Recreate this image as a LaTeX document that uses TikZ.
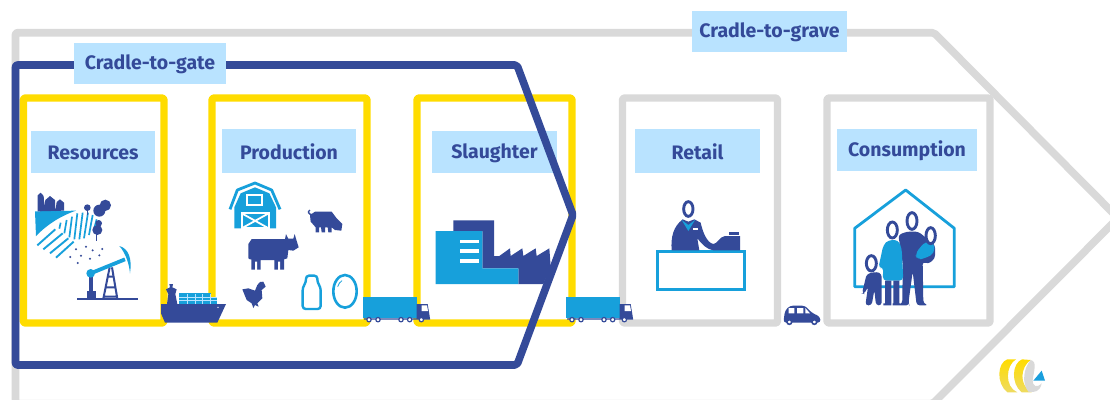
\documentclass[tikz,border=0pt]{standalone}
\usepackage{fontspec}
\setmainfont{Fira Sans}
\definecolor{navy}{HTML}{344A99}
\definecolor{cyanb}{HTML}{17A0DB}
\definecolor{sun}{HTML}{FFDC00}
\definecolor{ash}{HTML}{D9D9D9}
\definecolor{pale}{HTML}{B9E3FF}
\tikzset{
  stagebox/.style={line width=7.4pt,rounded corners=1.5pt,line join=round},
  yellowbox/.style={stagebox,draw=sun},
  graybox/.style={stagebox,draw=ash},
  tag/.style={fill=none,text=navy,font=\fontsize{19.5}{19.5}\selectfont\bfseries,inner sep=0pt,anchor=center},
  zoomA/.style={shift={(0,170)},x=0.33333pt,y=-0.33333pt},
  zoomB/.style={shift={(360,170)},x=0.33333pt,y=-0.33333pt},
  zoomC/.style={shift={(770,170)},x=0.33333pt,y=-0.33333pt},
  head/.style={fill=white,draw=navy,line width=2.9pt},
}
\newcommand{\tagnode}[6]{\fill[pale] (#2,#3) rectangle (#4,#5);
  \node[tag] (#1) at ({(#2+#4)/2},{(#3+#5)/2+1}) {#6};}
\newcommand{\truckicon}[1]{%
 \begin{scope}[zoomB,shift={(#1,0)}]
  \fill[cyanb] (8,380) rectangle (170,445);
  \fill[navy] (170,402) -- (203,402) -- (210,445) -- (210,449) -- (12,449) -- (12,445) -- (170,445) -- cycle;
  \fill[white] (185,406) -- (201,406) -- (204,423) -- (185,423) -- cycle;
  \foreach \wx in {27,54,123,149,184}{\draw[fill=white,draw=navy,line width=1.2pt] (\wx,449) circle (6.5);}
 \end{scope}}
\begin{document}
\begin{tikzpicture}[x=1pt,y=-1pt]
\useasboundingbox (0,0) rectangle (1110,399);
\fill[white] (0,0) rectangle (1110,399);
% outer gray chevron
\draw[ash,line width=7.6pt,rounded corners=2pt,line join=round]
  (15.5,403.6) -- (15.5,32.7) -- (934,32.7) -- (1118,218) -- (933,403.6) -- cycle;
% stage boxes
\draw[yellowbox] (23.3,98) rectangle (164,323);
\draw[yellowbox] (212,98) rectangle (367,323);
\draw[yellowbox] (417,98) rectangle (572,323);
\draw[graybox] (622.5,98) rectangle (777.5,323);
\draw[graybox] (827,98) rectangle (990,323);
% stage labels
\tagnode{res}{31}{131}{155}{173}{Resources}
\tagnode{prod}{222}{129}{356}{173}{Production}
\tagnode{sla}{432}{131}{557}{173}{Slaughter}
\tagnode{ret}{635}{129}{760}{173}{Retail}
\tagnode{con}{837}{129}{977}{171}{Consumption}
% resources icon
\begin{scope}[zoomA]
 \fill[cyanb] (105,124) -- (228,122) .. controls (175,140) and (135,170) .. (108,198) -- cycle;
 \fill[navy] (113,124) -- (113,76) -- (122,68) -- (131,78) -- (133,108) -- (136,90) -- (150,78) -- (165,90) -- (166,124) -- (170,96) -- (180,88) -- (192,98) -- (192,122) -- cycle;
 \foreach \a/\b/\c/\d in {112/226/166/178, 130/238/188/190, 150/250/205/205, 168/263/221/215}{\draw[cyanb,line width=1.9pt] (\a,\b) -- (\c,\d);}
 \foreach \a/\b/\c/\d in {178/176/182/158, 193/190/200/150, 208/202/216/140, 223/208/232/130, 238/208/248/128, 252/205/264/128, 267/195/278/135, 282/178/290/148}{\draw[cyanb,line width=1.7pt] (\a,\b) -- (\c,\d);}
 \foreach \tx/\ty/\tr in {262/113/10,298/122/18,316/106/17,292/180/15,296/160/10}{\fill[navy] (\tx,\ty) circle (\tr);}
 \fill[navy] (260,120) rectangle (264,135); \fill[navy] (288,190) rectangle (292,212);
 \foreach \px/\py in {228/238,258/230,278/241,307/237,211/261,243/257,270/266,298/256,233/279}{\fill[navy] (\px,\py) circle (3.4);}
 % pump
 \draw[navy,line width=1.8pt] (232,388) -- (413,388);
 \draw[navy,line width=2pt] (310,386) -- (329,292) (352,386) -- (336,292) (318,352) -- (345,352) (312,380) -- (350,380) (325,320) -- (340,320);
 \fill[navy] (268,310) rectangle (278,365); \fill[navy] (262,363) rectangle (288,386);
 \draw[cyanb,line width=3.8pt] (272,310) -- (375,268);
 \fill[cyanb] (272,310) circle (13);
 \fill[cyanb] (358,228) .. controls (385,235) and (397,265) .. (390,310) .. controls (388,285) and (378,250) .. cycle;
 % barn
 \draw[cyanb,line width=2.8pt,line join=round] (690,118) -- (712,60) -- (765,39) -- (815,60) -- (840,118);
 \fill[cyanb] (703,175) -- (703,112) -- (722,70) -- (765,52) -- (808,70) -- (828,112) -- (828,175) -- cycle;
 \draw[white,line width=1.8pt] (741,76) rectangle (786,106);
 \draw[white,line width=1.8pt] (725,130) rectangle (806,175);
 \draw[white,line width=1.8pt] (725,130) -- (806,175) (806,130) -- (725,175);
 % pig
 \draw[navy,line width=1.4pt] (935,134) .. controls (925,132) and (922,125) .. (930,120);
 \fill[navy] (930,135) -- (945,125) -- (995,125) -- (1010,145) -- (1027,162) -- (1024,182) -- (1005,180) -- (995,172) -- (995,187) -- (985,187) -- (983,172) -- (975,172) -- (975,187) -- (965,187) -- (963,172) -- (957,172) -- (957,187) -- (947,187) -- (947,172) -- (932,155) -- cycle;
 % cow
 \fill[navy] (745,265) -- (745,222) -- (755,207) -- (855,207) -- (858,192) -- (865,206) -- (880,206) -- (884,192) -- (888,206) -- (896,232) -- (880,242) -- (865,240) -- (862,265) -- (852,268) -- (852,299) -- (823,299) -- (823,270) -- (782,270) -- (782,299) -- (754,299) -- (754,268) -- (750,268) -- cycle;
 \fill[white] (765,275) rectangle (771,300) (834,275) rectangle (840,300);
 % hen
 \fill[navy] (727,358) -- (745,355) -- (765,362) -- (772,345) -- (780,336) -- (790,335) -- (797,350) -- (785,360) -- (787,385) -- (772,400) -- (776,410) -- (765,405) -- (760,414) -- (755,400) -- (740,390) -- cycle;
 % bottle and egg
 \draw[cyanb,line width=2.4pt,rounded corners=3pt,fill=white] (918,317) -- (952,317) -- (952,337) -- (962,352) -- (962,417) -- (908,417) -- (908,352) -- (918,337) -- cycle;
 \draw[cyanb,line width=2.6pt] (1035,364) ellipse (35 and 49);
 \draw[cyanb,line width=0.8pt] (1013,350) .. controls (1015,342) and (1020,336) .. (1026,332);
\end{scope}
% ship
\begin{scope}[zoomA]
 \fill[cyanb] (537,370) rectangle (632,402);
 \fill[cyanb] (632,382) rectangle (652,402);
 \foreach \yy in {381,391}{\draw[pale,line width=0.9pt] (537,\yy) -- (652,\yy);}
 \foreach \xx in {563,585,608,630}{\draw[pale,line width=0.9pt] (\xx,372) -- (\xx,402);}
 \fill[navy] (501,402) -- (505,372) -- (498,358) -- (510,352) -- (508,342) -- (519,342) -- (517,352) -- (530,358) -- (526,372) -- (532,402) -- cycle;
 \fill[navy] (483,402) -- (678,402) -- (652,458) -- (495,458) -- (483,430) -- cycle;
 \fill[white] (654,412) circle (2);
\end{scope}
% slaughterhouse
\begin{scope}[zoomB]
 \fill[navy] (280,151) -- (402,151) -- (402,258) -- (418,258) -- (450,235) -- (452,258) -- (487,235) -- (490,258) -- (527,235) -- (530,258) -- (568,235) -- (572,290) -- (550,342) -- (475,342) -- (475,295) -- (367,295) -- (367,183) -- (280,183) -- cycle;
 \fill[cyanb] (227,183) -- (367,183) -- (367,295) -- (475,295) -- (475,342) -- (227,342) -- cycle;
 \foreach \yy in {215,243,273}{\fill[white] (299,\yy-5) rectangle (358,\yy+5);}
 % cashier
 \draw[cyanb,line width=2.7pt,fill=white] (892,244) rectangle (1153,358);
 \fill[navy] (935,241) .. controls (932,200) and (940,170) .. (968,148) -- (985,155) -- (1003,148) -- (1022,158) .. controls (1028,185) and (1040,218) .. (1060,222) .. controls (1072,222) and (1078,200) .. (1095,198) -- (1140,198) -- (1140,241) -- (1060,241) .. controls (1040,238) and (1025,222) .. (1012,205) -- (1018,241) -- cycle;
 \fill[navy] (1108,185) rectangle (1136,196);
 \fill[cyanb] (965,150) -- (985,165) -- (1005,150) -- (985,183) -- cycle;
 \fill[white] (998,175) rectangle (1014,180);
 \draw[head] (985,117) ellipse (14 and 22);
\end{scope}
% cradle-to-grave label
\tagnode{grave}{692}{11}{847}{52}{Cradle-to-grave}
% family
\begin{scope}[zoomC]
 \draw[cyanb,line width=2.8pt,line join=round] (254,350) -- (254,175) -- (407,60) -- (553,175) -- (553,350) -- cycle;
 \fill[navy,rounded corners=3pt] (385,195) -- (410,185) -- (445,185) -- (470,205) -- (495,225) -- (495,265) -- (475,282) -- (458,275) -- (460,400) -- (475,406) -- (440,406) -- (428,305) -- (415,400) -- (418,406) -- (385,406) -- (397,400) -- (398,280) -- cycle;
 \fill[cyanb,rounded corners=4pt] (340,225) -- (355,210) -- (385,210) -- (395,235) -- (400,332) -- (338,332) -- (340,290) -- (325,295) -- cycle;
 \fill[cyanb,rounded corners=5pt] (465,215) -- (492,215) -- (494,250) -- (465,265) -- (440,270) -- (436,250) -- cycle;
 \fill[navy] (345,332) rectangle (364,400) (370,332) rectangle (388,400) (340,400) rectangle (364,406) (368,400) rectangle (392,406);
 \fill[navy,rounded corners=3pt] (290,312) -- (320,305) -- (335,312) -- (335,406) -- (318,406) -- (313,360) -- (305,406) -- (286,406) -- (294,350) -- (283,372) -- (276,370) -- cycle;
 \draw[head] (304,280) ellipse (15 and 23);
 \draw[head] (367,180) ellipse (15 and 24);
 \draw[head] (426,153) ellipse (15 and 25);
 \draw[head] (482,197) ellipse (14 and 24);
 % car
 \fill[navy,rounded corners=3pt] (40,458) -- (45,422) -- (60,407) -- (105,407) -- (125,428) -- (150,440) -- (152,458) -- cycle;
 \fill[white] (56,414) rectangle (73,430) (81,414) rectangle (100,430);
 \fill[white] (106,414) -- (120,430) -- (106,430) -- cycle;
 \foreach \wx in {58,133}{\draw[fill=white,draw=navy,line width=1.6pt] (\wx,456) circle (7);}
 % logo
 \shade[top color=sun,bottom color=sun!55!ash] (712,568) .. controls (682,578) and (678,640) .. (712,667) -- (742,667) .. controls (702,650) and (708,585) .. (738,568) -- cycle;
 \shade[top color=sun,bottom color=sun!55!ash] (756,568) .. controls (726,580) and (722,640) .. (755,667) -- (785,667) .. controls (745,645) and (752,590) .. (782,570) -- cycle;
 \fill[ash] (782,570) .. controls (802,575) and (792,600) .. (788,630) .. controls (788,650) and (800,655) .. (815,640) .. controls (810,665) and (795,668) .. (775,665) .. controls (755,640) and (760,595) .. cycle;
 \fill[cyan!60!cyanb] (790,632) -- (825,632) -- (815,602) -- cycle;
\end{scope}
% cradle-to-gate chevron
\draw[navy,line width=7.6pt,rounded corners=2pt,line join=round]
  (15.5,65) -- (517,65) -- (573,215) -- (517,365) -- (15.5,365) -- cycle;
\tagnode{gate}{74}{43}{226}{84}{Cradle-to-gate}
% trucks
\truckicon{0}
\truckicon{609}
\end{tikzpicture}
\end{document}
